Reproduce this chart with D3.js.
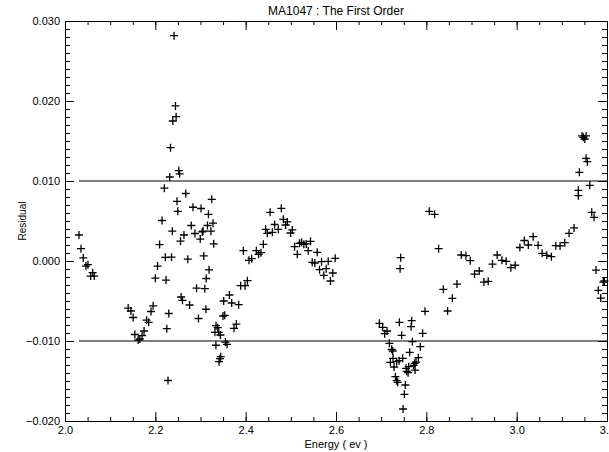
<!DOCTYPE html>
<html>
<head>
<meta charset="utf-8">
<script src="https://cdn.jsdelivr.net/npm/d3@7"></script>
<style>
  body { margin: 0; background: #fff; }
  svg { display: block; font-family: "Liberation Sans", Arial, sans-serif; }
</style>
</head>
<body>
<script>
const WIDTH = 609;
const HEIGHT = 452;

// residuals: energy (ev) and residual
var energy = [
  2.0309, 2.0354, 2.0404, 2.0464, 2.0508, 2.0568, 2.0612, 2.0647,
  2.1399, 2.1459, 2.1509, 2.1547, 2.1620, 2.1657, 2.1706, 2.1750, 2.1806, 2.1852, 2.1905, 2.1951,
  2.2000, 2.2049, 2.2095, 2.2148, 2.2199, 2.2221, 2.2236, 2.2254, 2.2281, 2.2298,
  2.2320, 2.2336, 2.2358, 2.2376, 2.2387, 2.2415, 2.2446, 2.2460, 2.2480, 2.2497,
  2.2519, 2.2537, 2.2557, 2.2570, 2.2601, 2.2634, 2.2674, 2.2718, 2.2758, 2.2796,
  2.2833, 2.2877, 2.2913, 2.2955, 2.2994, 2.3012, 2.3039, 2.3056, 2.3072, 2.3096,
  2.3127, 2.3120, 2.3154, 2.3176, 2.3189, 2.3231, 2.3249, 2.3277, 2.3293, 2.3319,
  2.3344, 2.3341, 2.3381, 2.3403, 2.3441, 2.3410, 2.3432, 2.3448, 2.3498, 2.3536,
  2.3514, 2.3551, 2.3587, 2.3640, 2.3691, 2.3741, 2.3794, 2.3845, 2.3889, 2.3985,
  2.4038, 2.3949, 2.4073, 2.4133, 2.4236, 2.4287, 2.4338, 2.4391, 2.4442, 2.4480,
  2.4541, 2.4590, 2.4641, 2.4723, 2.4789, 2.4833, 2.4884, 2.4922, 2.4994, 2.5032,
  2.5083, 2.5143, 2.5193, 2.5238, 2.5288, 2.5341, 2.5386, 2.5436, 2.5474, 2.5531,
  2.5584, 2.5635, 2.5680, 2.5730, 2.5783, 2.5828, 2.5878, 2.5929, 2.5982,
  2.6961, 2.7034, 2.7078, 2.7131, 2.7182, 2.7204, 2.7233, 2.7255, 2.7264, 2.7286,
  2.7315, 2.7344, 2.7344, 2.7366, 2.7397, 2.7403, 2.7419, 2.7432, 2.7454, 2.7476,
  2.7485, 2.7514, 2.7536, 2.7551, 2.7565, 2.7596, 2.7609, 2.7631, 2.7662, 2.7675,
  2.7691, 2.7719, 2.7741, 2.7750, 2.7772, 2.7823, 2.7867, 2.7918, 2.7971,
  2.8066, 2.8183, 2.8272, 2.8376, 2.8471, 2.8575, 2.8678, 2.8773, 2.8877, 2.8972,
  2.9067, 2.9171, 2.9275, 2.9370, 2.9465, 2.9569, 2.9673, 2.9768, 2.9872, 2.9967,
  3.0071, 3.0170, 3.0258, 3.0365, 3.0475, 3.0563, 3.0667, 3.0769, 3.0866, 3.0961,
  3.1065, 3.1160, 3.1271, 3.1366, 3.1366, 3.1388, 3.1448, 3.1476, 3.1507, 3.1536,
  3.1536, 3.1565, 3.1618, 3.1662, 3.1713, 3.1757, 3.1808, 3.1861, 3.1918, 3.1941
];
var residual = [
  0.00325, 0.00154, 0.00038, -0.00063, -0.00046, -0.00188, -0.00146, -0.00188,
  -0.00588, -0.00625, -0.00706, -0.00919, -0.00988, -0.00975, -0.00934, -0.00875, -0.00740, -0.00766, -0.00631, -0.00560,
  -0.00215, -0.00063, 0.00205, 0.00506, 0.00910, 0.00046, -0.00238, -0.00846, -0.01494, -0.00656,
  0.01050, 0.01416, 0.00048, 0.00373, 0.01750, 0.02816, 0.01938, 0.01804, 0.00746, 0.00621,
  0.01129, 0.01090, 0.00248, -0.00450, -0.00491, 0.00325, 0.00844, 0.00023, -0.00550, 0.00444,
  0.00672, 0.00344, -0.00340, -0.00719, 0.00274, 0.00656, 0.00363, 0.00374, 0.00063, -0.00346,
  -0.00219, -0.00603, 0.00444, 0.00584, -0.00110, 0.00373, 0.00771, 0.00473, 0.00215, -0.00891,
  -0.00809, -0.01053, -0.00834, -0.00891, -0.00925, -0.01259, -0.01221, -0.01196, -0.00688, -0.00679,
  -0.00500, -0.01013, -0.01041, -0.00425, -0.00525, -0.00841, -0.00788, -0.00546, -0.00309, -0.00309,
  -0.00246, 0.00129, 0.00009, 0.00029, 0.00129, 0.00084, 0.00104, 0.00209, 0.00396, 0.00346,
  0.00609, 0.00359, 0.00456, 0.00396, 0.00659, 0.00521, 0.00450, 0.00488, 0.00350, 0.00388,
  0.00179, 0.00084, 0.00221, 0.00234, 0.00209, 0.00213, 0.00129, 0.00246, -0.00016, -0.00025,
  0.00109, -0.00109, -0.00009, -0.00179, -0.00096, -0.00004, -0.00250, -0.00150, 0.00034,
  -0.00779, -0.00829, -0.00909, -0.00875, -0.01029, -0.01266, -0.01104, -0.01125, -0.01216, -0.01325,
  -0.01446, -0.01259, -0.01496, -0.01516, -0.01246, -0.00766, -0.00096, 0.00041, -0.00929, -0.01216,
  -0.01850, -0.01666, -0.01550, -0.01341, -0.01379, -0.01396, -0.01321, -0.01141, -0.00821, -0.00746,
  -0.01009, -0.01304, -0.01279, -0.01363, -0.01263, -0.01209, -0.01071, -0.00904, -0.00629,
  0.00621, 0.00584, 0.00154, -0.00354, -0.00625, -0.00466, -0.00288, 0.00075, 0.00066, 0.00004,
  -0.00163, -0.00125, -0.00263, -0.00254, -0.00038, 0.00075, 0.00009, -0.00004, -0.00084, -0.00053,
  0.00169, 0.00256, 0.00200, 0.00304, 0.00196, 0.00096, 0.00071, 0.00054, 0.00191, 0.00188,
  0.00229, 0.00346, 0.00413, 0.00816, 0.00884, 0.01109, 0.01563, 0.01546, 0.01525, 0.01563,
  0.01284, 0.01241, 0.00946, 0.00609, 0.00546, -0.00113, -0.00366, -0.00463, -0.00263, -0.00250
];

var xMajor = [2.0, 2.2, 2.4, 2.6, 2.8, 3.0, 3.2];
var yMajor = [-0.020, -0.010, 0.000, 0.010, 0.020, 0.030];
var limits = [-0.010, 0.010];

var titleText = 'MA1047 : The First Order';
var xTitle = 'Energy ( ev )';
var yTitle = 'Residual';

var plotLeft = 65, plotRight = 607, plotTop = 21, plotBottom = 421;

var x = d3.scaleLinear().domain([2.0, 3.2]).range([plotLeft, plotRight]);
var y = d3.scaleLinear().domain([-0.020, 0.030]).range([plotBottom, plotTop]);

var xMinor = d3.range(0, 25).map(function(i) { return 2.0 + i * 0.05; });
var yMinor = d3.range(0, 51).map(function(i) { return -0.020 + i * 0.001; });

var svg = d3.select('body')
    .append('svg')
    .attr('width', WIDTH)
    .attr('height', HEIGHT);

function styleAxis(g) {
    g.selectAll('path, line').attr('stroke', '#000').attr('stroke-width', 1);
    g.selectAll('text').attr('fill', '#000').attr('font-size', '11px');
}

// minor ticks, all four sides
svg.append('g').attr('transform', 'translate(0,' + plotBottom + ')')
    .call(d3.axisBottom(x).tickValues(xMinor).tickSize(-4).tickSizeOuter(0).tickFormat(''))
    .call(styleAxis);
svg.append('g').attr('transform', 'translate(0,' + plotTop + ')')
    .call(d3.axisTop(x).tickValues(xMinor).tickSize(-4).tickSizeOuter(0).tickFormat(''))
    .call(styleAxis);
svg.append('g').attr('transform', 'translate(' + plotLeft + ',0)')
    .call(d3.axisLeft(y).tickValues(yMinor).tickSize(-5).tickSizeOuter(0).tickFormat(''))
    .call(styleAxis);
svg.append('g').attr('transform', 'translate(' + plotRight + ',0)')
    .call(d3.axisRight(y).tickValues(yMinor).tickSize(-5).tickSizeOuter(0).tickFormat(''))
    .call(styleAxis);

// major ticks with labels
svg.append('g').attr('transform', 'translate(0,' + plotBottom + ')')
    .call(d3.axisBottom(x).tickValues(xMajor).tickSize(-9).tickSizeOuter(0)
        .tickPadding(5).tickFormat(d3.format('.1f')))
    .call(styleAxis);
svg.append('g').attr('transform', 'translate(0,' + plotTop + ')')
    .call(d3.axisTop(x).tickValues(xMajor).tickSize(-9).tickSizeOuter(0).tickFormat(''))
    .call(styleAxis);
svg.append('g').attr('transform', 'translate(' + plotLeft + ',0)')
    .call(d3.axisLeft(y).tickValues(yMajor).tickSize(-9).tickSizeOuter(0)
        .tickPadding(5).tickFormat(d3.format('.3f')))
    .call(styleAxis);
svg.append('g').attr('transform', 'translate(' + plotRight + ',0)')
    .call(d3.axisRight(y).tickValues(yMajor).tickSize(-9).tickSizeOuter(0).tickFormat(''))
    .call(styleAxis);

// limit lines, drawn over the data range
svg.selectAll('line.limit')
    .data(limits)
    .enter()
    .append('line')
    .attr('class', 'limit')
    .attr('x1', x(d3.min(energy)))
    .attr('x2', x(3.2))
    .attr('y1', function(d) { return y(d); })
    .attr('y2', function(d) { return y(d); })
    .attr('stroke', '#000')
    .attr('stroke-width', 1.2);

// plus markers
svg.selectAll('path.pt')
    .data(d3.range(energy.length))
    .enter()
    .append('path')
    .attr('class', 'pt')
    .attr('transform', function(i) {
        return 'translate(' + x(energy[i]) + ',' + y(residual[i]) + ')';
    })
    .attr('d', 'M-4,0H4M0,-4V4')
    .attr('stroke', '#000')
    .attr('stroke-width', 1.3)
    .attr('fill', 'none');

svg.append('text')
    .attr('x', (plotLeft + plotRight) / 2)
    .attr('y', 15)
    .attr('text-anchor', 'middle')
    .attr('font-size', '12px')
    .text(titleText);

svg.append('text')
    .attr('x', (plotLeft + plotRight) / 2)
    .attr('y', 448)
    .attr('text-anchor', 'middle')
    .attr('font-size', '11px')
    .text(xTitle);

svg.append('text')
    .attr('transform', 'translate(26,' + (plotTop + plotBottom) / 2 + ') rotate(-90)')
    .attr('text-anchor', 'middle')
    .attr('font-size', '10px')
    .text(yTitle);
</script>
</body>
</html>
